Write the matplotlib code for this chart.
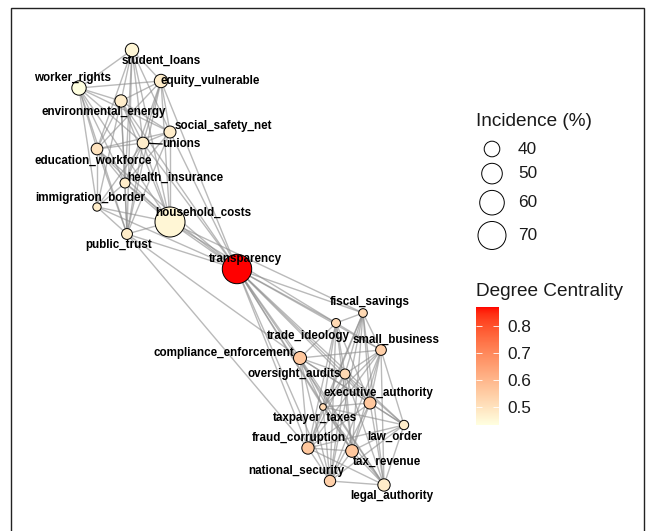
import matplotlib
matplotlib.use("Agg")
import matplotlib.pyplot as plt
import numpy as np
from matplotlib.colors import ListedColormap, Normalize
from matplotlib.patches import Rectangle
import matplotlib.colorbar as mcolorbar

plt.rcParams['font.family'] = ['Liberation Sans', 'DejaVu Sans']

# nodes, layout positions (screen units, y down), incidence (%), degree centrality
nodes = ['student_loans', 'worker_rights', 'equity_vulnerable', 'environmental_energy',
         'social_safety_net', 'unions', 'education_workforce', 'health_insurance',
         'immigration_border', 'household_costs', 'public_trust', 'transparency',
         'fiscal_savings', 'trade_ideology', 'small_business', 'compliance_enforcement',
         'oversight_audits', 'executive_authority', 'taxpayer_taxes', 'law_order',
         'fraud_corruption', 'tax_revenue', 'national_security', 'legal_authority']
node_x = [132, 79, 161, 121, 170, 143, 97, 125, 97, 170, 127, 237,
          363, 336, 381, 300, 345, 370, 323, 404, 308, 352, 330, 384]
node_y = [50, 88, 81, 101, 132, 143, 149, 183, 207, 222, 234, 269,
          313, 323, 350, 358, 374, 403, 407, 425, 448, 451, 481, 485]
incidence = [36.4, 37.9, 36.4, 34.9, 34.4, 34.0, 34.0, 32.0, 30.3, 76.5, 33.0, 74.5,
             30.6, 30.9, 32.8, 35.8, 32.0, 34.5, 28.9, 31.3, 34.9, 35.3, 33.6, 34.9]
centrality = [0.457, 0.435, 0.478, 0.478, 0.478, 0.478, 0.5, 0.478, 0.478, 0.457, 0.478, 0.870,
              0.522, 0.522, 0.543, 0.565, 0.522, 0.565, 0.522, 0.478, 0.565, 0.565, 0.543, 0.478]

# label positions (text centres)
label_x = [161, 73, 210, 104, 223, 181, 93, 175, 90, 203, 119, 245,
           370, 308, 396, 224, 294, 378, 315, 395, 299, 387, 296, 392]
label_y = [61, 78, 81, 112, 126, 144, 161, 178, 198, 213, 245, 259,
           302, 336, 340, 353, 374, 393, 418, 437, 438, 462, 471, 496]

# neighbours (only later nodes listed)
adjacency = {
    0: [1, 2, 3, 4, 5, 6, 7, 9, 10],
    1: [2, 3, 4, 5, 6, 7, 8, 9, 10],
    2: [3, 4, 5, 6, 7, 9, 10, 11],
    3: [4, 5, 6, 7, 8, 9, 10, 11],
    4: [5, 6, 7, 9, 10, 11],
    5: [6, 7, 8, 9, 10, 11],
    6: [7, 8, 9, 10, 11],
    7: [8, 9, 10, 11],
    8: [9, 10, 11],
    9: [10, 11, 12, 13],
    10: [11, 15, 20],
    11: [12, 13, 14, 15, 16, 17, 18, 19, 20, 21, 22, 23],
    12: [13, 14, 16, 17, 18, 20, 21, 22, 23],
    13: [14, 15, 16, 17, 18, 20, 21, 22],
    14: [15, 16, 17, 18, 19, 20, 21, 22, 23],
    15: [16, 17, 18, 19, 20, 21, 22, 23],
    16: [17, 18, 19, 20, 21, 22, 23],
    17: [18, 19, 20, 21, 22, 23],
    18: [19, 20, 21, 22, 23],
    19: [20, 21, 22, 23],
    20: [21, 22, 23],
    21: [22, 23],
    22: [23],
}

size_breaks = [40, 50, 60, 70]
cbar_ticks = [0.5, 0.6, 0.7, 0.8]


# colour ramp in CIELAB like ggplot's gradient
def srgb_to_lab(rgb):
    c = np.array(rgb, dtype=float)
    lin = np.where(c <= 0.04045, c / 12.92, ((c + 0.055) / 1.055) ** 2.4)
    M = np.array([[0.4124, 0.3576, 0.1805], [0.2126, 0.7152, 0.0722], [0.0193, 0.1192, 0.9505]])
    xyz = M @ lin / np.array([0.95047, 1.0, 1.08883])
    f = np.where(xyz > 0.008856, np.cbrt(xyz), 7.787 * xyz + 16 / 116)
    return np.array([116 * f[1] - 16, 500 * (f[0] - f[1]), 200 * (f[1] - f[2])])


def lab_to_srgb(lab):
    fy = (lab[0] + 16) / 116
    fx = fy + lab[1] / 500
    fz = fy - lab[2] / 200
    f = np.array([fx, fy, fz])
    xyz = np.where(f ** 3 > 0.008856, f ** 3, (f - 16 / 116) / 7.787) * np.array([0.95047, 1.0, 1.08883])
    Minv = np.array([[3.2406, -1.5372, -0.4986], [-0.9689, 1.8758, 0.0415], [0.0557, -0.2040, 1.0570]])
    lin = Minv @ xyz
    c = np.where(lin <= 0.0031308, 12.92 * lin, 1.055 * np.clip(lin, 0, None) ** (1 / 2.4) - 0.055)
    return np.clip(c, 0, 1)


low = srgb_to_lab([1.0, 1.0, 224 / 255])
high = srgb_to_lab([1.0, 0.0, 0.0])
cmap = ListedColormap([lab_to_srgb(low + t * (high - low)) for t in np.linspace(0, 1, 256)])
norm = Normalize(min(centrality), max(centrality))


def radius_px(v):
    return np.sqrt(61 + 4.5 * (np.asarray(v, dtype=float) - 40))


def marker_area(v):
    return (2 * radius_px(v) * 0.72) ** 2


fig = plt.figure(figsize=(6.48, 5.31), dpi=100)
ax = fig.add_axes([0, 0, 1, 1])
ax.set_xlim(0, 648)
ax.set_ylim(531, 0)
ax.axis('off')

fig.patches.append(Rectangle((11 / 648, -0.05), 633 / 648, 1.05 - 8 / 531, transform=fig.transFigure,
                             fill=False, edgecolor='#222222', lw=1.0))

for i, nb in adjacency.items():
    for j in nb:
        ax.plot([node_x[i], node_x[j]], [node_y[i], node_y[j]], color='#8c8c8c', alpha=0.6,
                lw=1.0, zorder=1, solid_capstyle='butt')

# leader line for unions
ax.plot([node_x[5], label_x[5] - 19], [node_y[5], label_y[5]], color='black', lw=0.9, zorder=2)

ax.scatter(node_x, node_y, s=marker_area(incidence), c=centrality, cmap=cmap, norm=norm,
           edgecolors='black', linewidths=0.7, zorder=3)

for name, lx, ly in zip(nodes, label_x, label_y):
    ax.text(lx, ly, name, ha='center', va='center', fontsize=8.4, fontweight='bold',
            color='black', zorder=4)

# size legend
ax.text(476, 122, 'Incidence (%)', ha='left', va='center', fontsize=13.7, color='#1a1a1a')
diam = 2 * radius_px(size_breaks)
leg_y = 149 + np.concatenate([[0], np.cumsum((diam[:-1] + diam[1:]) / 2 + 6.5)])
ax.scatter([492] * len(size_breaks), leg_y, s=marker_area(size_breaks), facecolors='white',
           edgecolors='black', linewidths=0.7)
for v, yy in zip(size_breaks, leg_y):
    ax.text(518, yy, str(v), ha='left', va='center', fontsize=12.4, color='#1a1a1a')

# colour legend
ax.text(476, 292, 'Degree Centrality', ha='left', va='center', fontsize=13.7, color='#1a1a1a')
cax = fig.add_axes([476 / 648, 1 - 425 / 531, 23 / 648, 118 / 531])
cb = mcolorbar.ColorbarBase(cax, cmap=cmap, norm=norm, orientation='vertical')
cb.outline.set_visible(False)
cb.set_ticks(cbar_ticks)
cb.set_ticklabels([f'{t:.1f}' for t in cbar_ticks])
cax.tick_params(axis='y', direction='in', length=4, width=0.6, color='white', left=True, right=True,
                labelleft=False, labelright=True, labelsize=12.4, labelcolor='#1a1a1a', pad=6)

fig.savefig('out.png', dpi=100)
